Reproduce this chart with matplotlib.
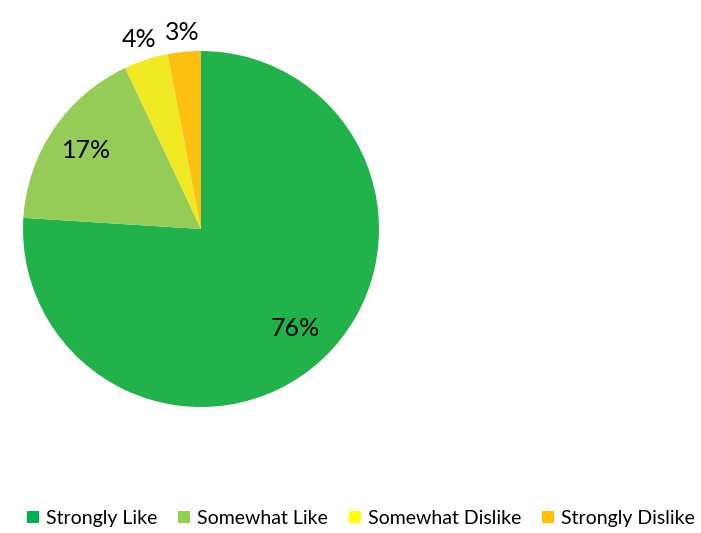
import numpy as np
import matplotlib
matplotlib.use("Agg")
import matplotlib.pyplot as plt
from matplotlib.patches import Patch

plt.rcParams['font.family'] = ['Lato', 'DejaVu Sans']

# Data
categories = ["Strongly Like", "Somewhat Like", "Somewhat Dislike", "Strongly Dislike"]
values = [76, 17, 4, 3]
labels = ["76%", "17%", "4%", "3%"]

pie_colors = ["#21B24B", "#95CB57", "#F0E823", "#FDBF12"]
legend_colors = ["#00B050", "#92D050", "#FFFF00", "#FFC000"]
label_radius = [0.77, 0.78, 1.12, 1.11]

fig = plt.figure(figsize=(7.01, 5.33), dpi=100)
ax = fig.add_axes([23 / 701, 126 / 533, 356 / 701, 356 / 533])

wedges, _ = ax.pie(values, colors=pie_colors, startangle=90, counterclock=False,
                   radius=1.0, wedgeprops=dict(linewidth=0))

for w, lab, r in zip(wedges, labels, label_radius):
    ang = np.deg2rad((w.theta1 + w.theta2) / 2)
    ax.text(r * np.cos(ang), r * np.sin(ang), lab, ha="center", va="center",
            fontsize=18, color="black")

ax.set_xlim(-1, 1)
ax.set_ylim(-1, 1)
ax.set_aspect("equal")
ax.axis("off")

handles = [Patch(facecolor=c, edgecolor="none") for c in legend_colors]
fig.legend(handles, categories, loc="center", bbox_to_anchor=(0.515, 0.028),
           ncol=4, frameon=False, fontsize=14, handlelength=0.6,
           handleheight=0.6, handletextpad=0.35, columnspacing=1.1)

fig.savefig("out.png", dpi=100)
